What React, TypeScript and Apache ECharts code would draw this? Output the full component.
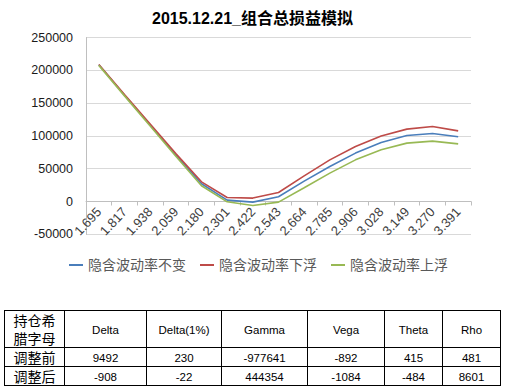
import React, { useEffect, useRef } from 'react';
import * as echarts from 'echarts';

const titleText = '2015.12.21_组合总损益模拟';
const categories = ['1.695', '1.817', '1.938', '2.059', '2.180', '2.301', '2.422', '2.543', '2.664', '2.785', '2.906', '3.028', '3.149', '3.270', '3.391'];
const seriesNames = ['隐含波动率不变', '隐含波动率下浮', '隐含波动率上浮'];
const flatVol = [208500, 162000, 116500, 71000, 27000, 2100, -1000, 7200, 31000, 53300, 73800, 90000, 100600, 103600, 98600];
const volDown = [209000, 163000, 118000, 73000, 30000, 6100, 5200, 13700, 39000, 63500, 83800, 100000, 110300, 114300, 107700];
const volUp = [207500, 161000, 115000, 69000, 24000, -500, -6000, -1000, 21000, 43300, 63500, 78800, 89000, 92000, 87900];
const seriesColors = ['#4A7EBB', '#BE4B48', '#98B954'];
const yMin = -50000;
const yMax = 250000;
const yStep = 50000;

const tableCorner = '持仓希\n腊字母';
const greekNames = ['Delta', 'Delta(1%)', 'Gamma', 'Vega', 'Theta', 'Rho'];
const rowLabels = ['调整前', '调整后'];
const greeksBefore = ['9492', '230', '-977641', '-892', '415', '481'];
const greeksAfter = ['-908', '-22', '444354', '-1084', '-484', '8601'];

const colX = [4, 64, 146, 221, 307, 384, 442, 500];
const rowY = [310, 347, 366, 385];

const FONT = '"Liberation Sans", "Noto Sans CJK SC", sans-serif';

const gridTop = 37.5;
const gridBottomY = 234.3;

function buildTable() {
  const els: any[] = [];
  const lineStyle = { stroke: '#000', lineWidth: 1 };
  for (const x of colX) {
    els.push({ type: 'line', shape: { x1: x + 0.5, y1: rowY[0], x2: x + 0.5, y2: rowY[rowY.length - 1] + 1 }, style: lineStyle, silent: true });
  }
  for (const y of rowY) {
    els.push({ type: 'line', shape: { x1: colX[0], y1: y + 0.5, x2: colX[colX.length - 1] + 1, y2: y + 0.5 }, style: lineStyle, silent: true });
  }
  const cell = (text: string, c: number, r: number, size: number, lh?: number) => {
    const cx = (colX[c] + colX[c + 1]) / 2 + 0.5;
    const cy = (rowY[r] + rowY[r + 1]) / 2 + 1;
    els.push({
      type: 'text',
      x: cx,
      y: cy,
      silent: true,
      style: {
        text,
        fill: '#000',
        fontSize: size,
        fontFamily: FONT,
        lineHeight: lh,
        textAlign: 'center',
        textVerticalAlign: 'middle',
        align: 'center',
        verticalAlign: 'middle',
      },
    });
  };
  cell(tableCorner, 0, 0, 14, 18);
  greekNames.forEach((g, i) => cell(g, i + 1, 0, 11.5));
  cell(rowLabels[0], 0, 1, 14);
  cell(rowLabels[1], 0, 2, 14);
  greeksBefore.forEach((v, i) => cell(v, i + 1, 1, 11.5));
  greeksAfter.forEach((v, i) => cell(v, i + 1, 2, 11.5));
  return els;
}

export default function App() {
  const ref = useRef<HTMLDivElement>(null);
  useEffect(() => {
    document.body.style.margin = '0';
    const chart = echarts.init(ref.current!, null, { renderer: 'svg' });
    const data = [flatVol, volDown, volUp];
    const zeroOffset = ((gridBottomY - gridTop) * (0 - yMin)) / (yMax - yMin);
    chart.setOption({
      animation: false,
      backgroundColor: '#fff',
      title: {
        text: titleText,
        left: 'center',
        top: 5,
        textStyle: { fontSize: 16, fontWeight: 'bold', color: '#000', fontFamily: FONT },
      },
      legend: {
        left: 64,
        top: 253,
        icon: 'rect',
        itemWidth: 14,
        itemHeight: 2,
        itemGap: 14,
        textStyle: { fontSize: 14, color: '#595959', fontFamily: FONT },
        data: seriesNames,
      },
      grid: { left: 86, right: 34, top: gridTop, bottom: 388 - gridBottomY },
      xAxis: {
        type: 'category',
        data: categories,
        boundaryGap: true,
        offset: -zeroOffset,
        axisLine: { onZero: false, lineStyle: { color: '#BFBFBF', width: 1 } },
        axisTick: { show: true, length: 4, lineStyle: { color: '#BFBFBF' } },
        axisLabel: { rotate: 47, margin: 8, fontSize: 13, color: '#404040', fontFamily: FONT, interval: 0 },
        splitLine: { show: false },
      },
      yAxis: {
        type: 'value',
        min: yMin,
        max: yMax,
        interval: yStep,
        axisLine: { show: true, lineStyle: { color: '#BFBFBF' } },
        axisTick: { show: false },
        axisLabel: { margin: 13, fontSize: 12.5, color: '#1a1a1a', fontFamily: FONT, formatter: (v: number) => String(v) },
        splitLine: { lineStyle: { color: '#D9D9D9' } },
      },
      series: seriesNames.map((name, i) => ({
        name,
        type: 'line',
        data: data[i],
        symbol: 'none',
        showSymbol: false,
        color: seriesColors[i],
        itemStyle: { color: seriesColors[i] },
        lineStyle: { width: 1.6, color: seriesColors[i] },
      })),
      graphic: buildTable(),
    });
    return () => chart.dispose();
  }, []);
  return <div ref={ref} style={{ width: 505, height: 388 }} />;
}
